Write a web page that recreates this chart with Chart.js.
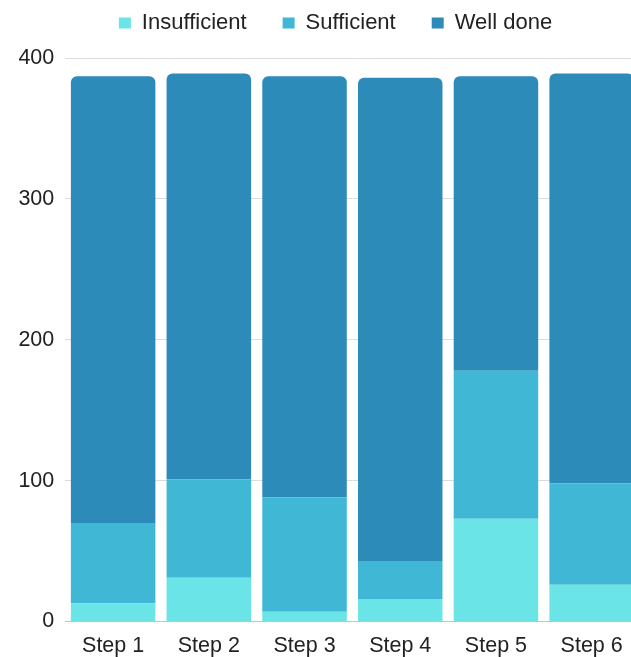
<!DOCTYPE html>
<html>
<head>
<meta charset="utf-8">
<script src="https://cdn.jsdelivr.net/npm/chart.js@4/dist/chart.umd.min.js"></script>
<style>
  html, body { margin: 0; padding: 0; background: #ffffff; overflow: hidden; }
  #wrap { width: 671px; height: 657px; }
</style>
</head>
<body>
<div id="wrap"><canvas id="chart" width="671" height="657"></canvas></div>
<script>
// Steps along the x axis
const steps = ['Step 1', 'Step 2', 'Step 3', 'Step 4', 'Step 5', 'Step 6'];

// Number of results per rating, stacked bottom to top
const insufficient = [13, 31, 7, 16, 73, 26];
const sufficient   = [57, 70, 81, 27, 105, 72];
const wellDone     = [317, 288, 299, 343, 209, 291];

// Value axis
const yMin = 0;
const yMax = 400;
const yStep = 100;

const FONT = "'Liberation Sans', Arial, sans-serif";

// Legend spacing: wide gaps between items, legend spanning the full canvas width
const legendLayout = {
  id: 'legendLayout',
  beforeInit(chart) {
    const legend = chart.legend;
    if (!legend) return;
    const fit = legend.fit;
    legend.fit = function () {
      fit.call(this);
      this.height = 82;
    };
  },
  afterLayout(chart) {
    const legend = chart.legend;
    if (!legend) return;
    legend.left = 0;
    legend.right = chart.width;
    legend.width = chart.width;
  }
};

new Chart(document.getElementById('chart'), {
  type: 'bar',
  data: {
    labels: steps,
    datasets: [
      {
        label: 'Insufficient',
        data: insufficient,
        backgroundColor: '#6ae4e6',
        borderWidth: 0
      },
      {
        label: 'Sufficient',
        data: sufficient,
        backgroundColor: '#41b7d6',
        borderWidth: 0
      },
      {
        label: 'Well done',
        data: wellDone,
        backgroundColor: '#2d8bb9',
        borderWidth: 0,
        borderSkipped: 'start',
        borderRadius: { topLeft: 6, topRight: 6, bottomLeft: 0, bottomRight: 0 }
      }
    ]
  },
  options: {
    responsive: false,
    animation: false,
    devicePixelRatio: 1,
    layout: {
      padding: { top: -24, left: 7.4, right: 31.5, bottom: -14 }
    },
    datasets: {
      bar: {
        categoryPercentage: 1,
        barPercentage: 0.883
      }
    },
    scales: {
      x: {
        stacked: true,
        grid: { display: false, drawTicks: false },
        border: { display: true, color: '#c4c4c4', width: 1 },
        ticks: {
          color: '#222222',
          padding: 14,
          font: { family: FONT, size: 21.5, lineHeight: 1 }
        }
      },
      y: {
        stacked: true,
        min: yMin,
        max: yMax,
        grid: { color: '#dcdcdc', lineWidth: 1, drawTicks: false },
        border: { display: false },
        ticks: {
          stepSize: yStep,
          color: '#222222',
          padding: 11,
          font: { family: FONT, size: 21.5 }
        }
      }
    },
    plugins: {
      legend: {
        position: 'top',
        align: 'center',
        labels: {
          boxWidth: 12,
          boxHeight: 11,
          padding: 36,
          color: '#222222',
          font: { family: FONT, size: 22 }
        }
      },
      tooltip: { enabled: false }
    }
  },
  plugins: [legendLayout]
});
</script>
</body>
</html>
